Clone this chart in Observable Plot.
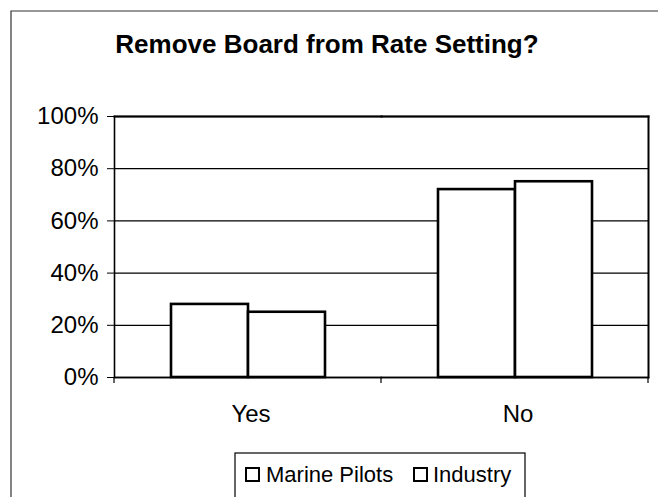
<!DOCTYPE html>
<html>
<head>
<meta charset="utf-8">
<script src="https://cdn.jsdelivr.net/npm/d3@7"></script>
<script src="https://cdn.jsdelivr.net/npm/@observablehq/plot@0.6"></script>
<style>
  html, body { margin: 0; padding: 0; background: white; }
  #chart { width: 658px; height: 497px; }
</style>
</head>
<body>
<div id="chart"></div>
<script>
const title = "Remove Board from Rate Setting?";
const categories = ["Yes", "No"];
const series = ["Marine Pilots", "Industry"];
const marinePilots = [28, 72];
const industry = [25, 75];
const yTicks = [0, 20, 40, 60, 80, 100];

const data = [];
categories.forEach((c, i) => {
  data.push({cat: c, series: series[0], value: marinePilots[i]});
  data.push({cat: c, series: series[1], value: industry[i]});
});

const FONT = "'Liberation Sans', Arial, Helvetica, sans-serif";

const plot = Plot.plot({
  width: 658,
  height: 497,
  marginTop: 116,
  marginBottom: 120,
  marginLeft: 113,
  marginRight: 10,
  style: {fontFamily: FONT, background: "white", color: "black", overflow: "visible"},
  y: {domain: [0, 100]},
  fx: {domain: categories, padding: 0},
  x: {domain: series, paddingInner: 0, paddingOuter: 0.725},
  marks: [
    Plot.gridY(yTicks, {stroke: "black", strokeOpacity: 1, strokeWidth: 1.3}),
    Plot.barY(data, {fx: "cat", x: "series", y: "value", fill: "white", stroke: "black", strokeWidth: 2.6}),
    Plot.frame({anchor: "top", stroke: "black", strokeWidth: 2}),
    Plot.frame({anchor: "bottom", stroke: "black", strokeWidth: 1.6}),
    Plot.frame({anchor: "left", facetAnchor: "left", stroke: "black", strokeWidth: 1.6}),
    Plot.frame({anchor: "right", facetAnchor: "right", stroke: "black", strokeWidth: 2}),
    Plot.axisY({ticks: yTicks, tickFormat: d => d + "%", tickSize: 7, tickPadding: 9, label: null, fontSize: 24}),
    Plot.axisX({ticks: [], label: null}),
    Plot.axisFx({anchor: "bottom", tickSize: 0, tickPadding: 27, label: null, fontSize: 24, dx: 3})
  ]
});

document.getElementById("chart").appendChild(plot);

const svg = d3.select(plot);

// outer chart border (left & top)
svg.append("path")
  .attr("d", "M11,497V11H658")
  .attr("fill", "none")
  .attr("stroke", "#333")
  .attr("stroke-width", 1.2);

// category separator ticks below the axis, derived from fx scale
const fx = plot.scale("fx");
const y0 = plot.scale("y").apply(0);
const bounds = new Set();
categories.forEach(c => {
  const a = fx.apply(c);
  bounds.add(a);
  bounds.add(a + fx.bandwidth);
});
bounds.forEach(b => {
  svg.append("line")
    .attr("x1", b).attr("x2", b)
    .attr("y1", y0).attr("y2", y0 + 6)
    .attr("stroke", "black").attr("stroke-width", 1.2);
});

// title
svg.append("text")
  .attr("x", 327).attr("y", 53)
  .attr("text-anchor", "middle")
  .attr("font-family", FONT)
  .attr("font-weight", "bold")
  .attr("font-size", 26)
  .attr("fill", "black")
  .text(title);

// legend
const lg = svg.append("g");
lg.append("rect")
  .attr("x", 235).attr("y", 453).attr("width", 290).attr("height", 50)
  .attr("fill", "white").attr("stroke", "black").attr("stroke-width", 1.2);
const legendItems = [
  {label: series[0], sx: 246, tx: 266},
  {label: series[1], sx: 414, tx: 433}
];
legendItems.forEach(it => {
  lg.append("rect")
    .attr("x", it.sx).attr("y", 468).attr("width", 13).attr("height", 13)
    .attr("fill", "white").attr("stroke", "black").attr("stroke-width", 2);
  lg.append("text")
    .attr("x", it.tx).attr("y", 482)
    .attr("text-anchor", "start")
    .attr("font-family", FONT)
    .attr("font-size", 22)
    .attr("fill", "black")
    .text(it.label);
});
</script>
</body>
</html>
